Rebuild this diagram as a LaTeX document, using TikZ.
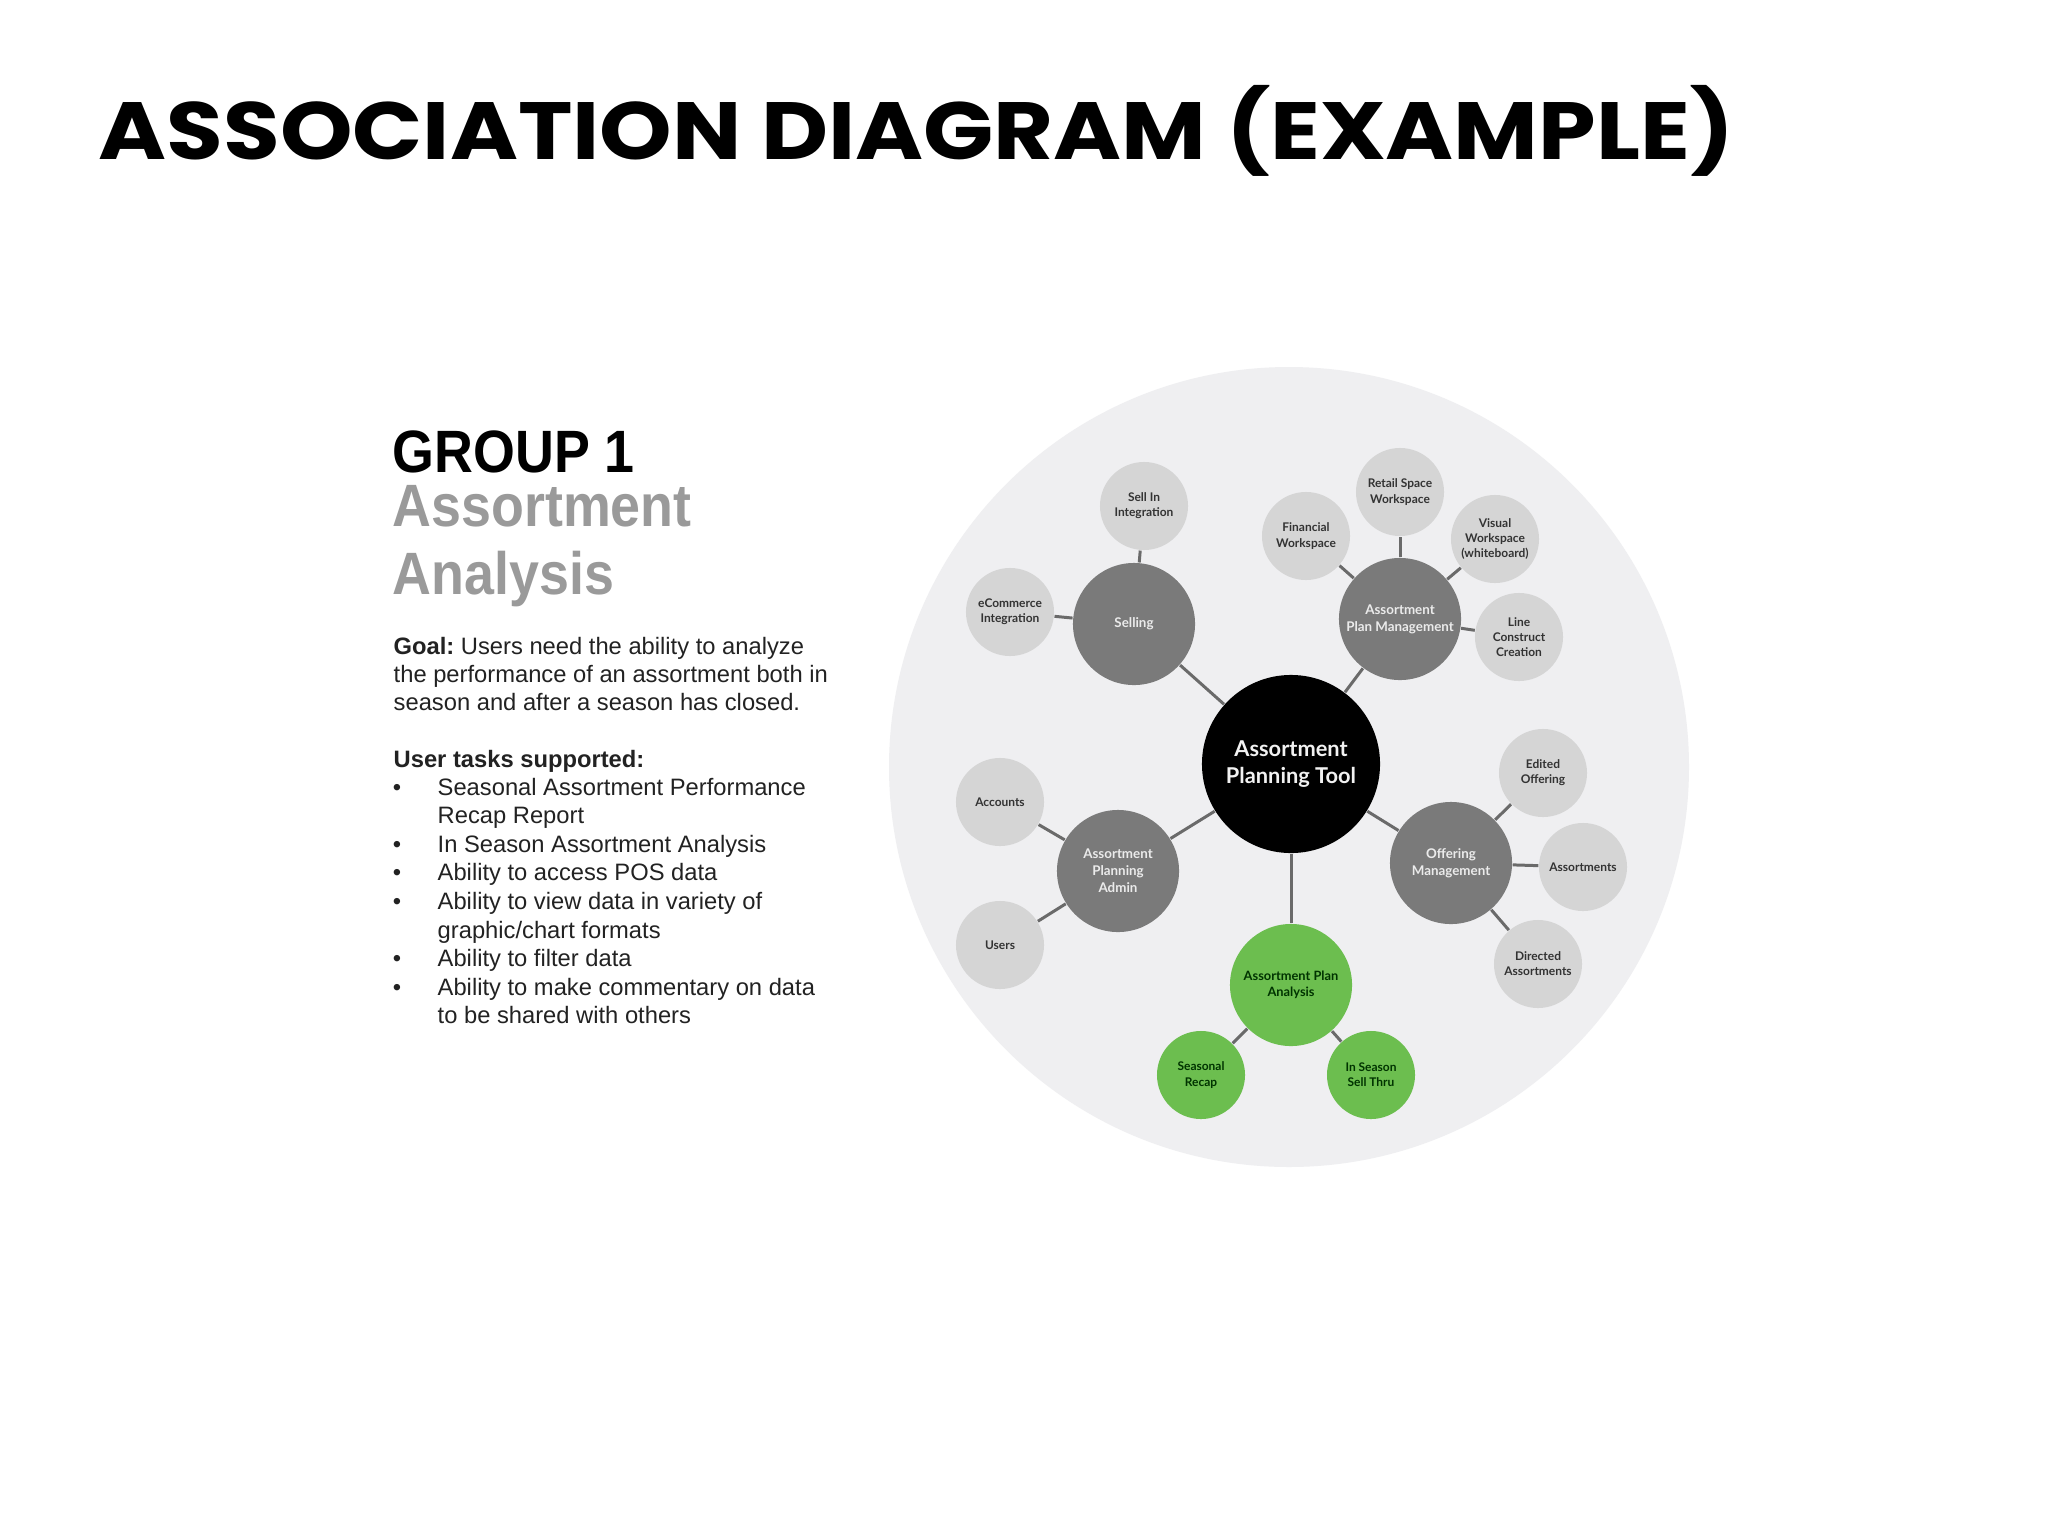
\documentclass[tikz,border=0pt]{standalone}
\usepackage{fontspec}
\usepackage{graphicx}
\setmainfont{Liberation Sans}
\newfontfamily\labfont{Lato}
\newfontfamily\ttlfont{Poppins}
\frenchspacing
\definecolor{bigbg}{HTML}{EFEFF1}
\definecolor{leafgray}{HTML}{D5D5D5}
\definecolor{midgray}{HTML}{7A7A7A}
\definecolor{grn}{HTML}{6CBE4F}
\definecolor{edgegray}{HTML}{6A6A6A}
\definecolor{headgray}{HTML}{9A9A9A}
\definecolor{bodytxt}{HTML}{222222}
\tikzset{
  leafc/.style={circle, fill=leafgray, minimum size=0.88cm, inner sep=0pt, align=center,
    text=black!80, font=\labfont\bfseries\fontsize{3.4}{4.3}\selectfont},
  midc/.style={circle, fill=midgray, minimum size=1.22cm, inner sep=0pt, align=center,
    text=white!92!black, font=\labfont\bfseries\fontsize{3.8}{4.8}\selectfont},
  hubc/.style={circle, fill=black, minimum size=1.78cm, inner sep=0pt, align=center,
    text=white!95!black, font=\labfont\bfseries\fontsize{6.2}{7.8}\selectfont},
  grnmid/.style={circle, fill=grn, minimum size=1.22cm, inner sep=0pt, align=center,
    text=black!80!green, font=\labfont\bfseries\fontsize{3.65}{4.55}\selectfont},
  grnleaf/.style={circle, fill=grn, minimum size=0.88cm, inner sep=0pt, align=center,
    text=black!80!green, font=\labfont\bfseries\fontsize{3.4}{4.3}\selectfont},
  link/.style={draw=edgegray, line width=0.85pt},
  headline/.style={anchor=base west, inner sep=0pt},
  bodyline/.style={anchor=base west, inner sep=0pt, text=bodytxt, font=\fontsize{6.75}{8.1}\selectfont},
  bulletmark/.style={anchor=base, inner sep=0pt, text=bodytxt, font=\fontsize{6.75}{8.1}\selectfont},
}
\newcommand{\headtxt}[1]{\scalebox{0.9}[1]{\fontsize{17}{17}\selectfont\bfseries #1}}
\begin{document}
\begin{tikzpicture}[x=0.01cm, y=-0.01cm]
\useasboundingbox[fill=white] (0,0) rectangle (2048,1536);

% title
\node[anchor=north west, inner sep=0pt] (title) at (98,85)
  {\resizebox*{465pt}{25.9pt}{\ttlfont\bfseries ASSOCIATION DIAGRAM (EXAMPLE)}};

% left panel
\node[headline] (grp) at (392,472) {\headtxt{GROUP 1}};
\node[headline, text=headgray] (hd1) at (392,526) {\headtxt{Assortment}};
\node[headline, text=headgray] (hd2) at (392,594) {\headtxt{Analysis}};

\node[bodyline] (g1) at (393,654) {\textbf{Goal:} Users need the ability to analyze};
\node[bodyline] (g2) at (393,682) {the performance of an assortment both in};
\node[bodyline] (g3) at (393,710) {season and after a season has closed.};

\node[bodyline] (ut) at (393,767) {\textbf{User tasks supported:}};

\node[bodyline] (t1) at (437,795.0) {Seasonal Assortment Performance};
\node[bodyline] (t2) at (437,823.6) {Recap Report};
\node[bodyline] (t3) at (437,852.2) {In Season Assortment Analysis};
\node[bodyline] (t4) at (437,880.8) {Ability to access POS data};
\node[bodyline] (t5) at (437,909.4) {Ability to view data in variety of};
\node[bodyline] (t6) at (437,938.0) {graphic/chart formats};
\node[bodyline] (t7) at (437,966.6) {Ability to filter data};
\node[bodyline] (t8) at (437,995.2) {Ability to make commentary on data};
\node[bodyline] (t9) at (437,1023.8) {to be shared with others};

\node[bulletmark] (b1) at (397,795.0) {\textbullet};
\node[bulletmark] (b3) at (397,852.2) {\textbullet};
\node[bulletmark] (b4) at (397,880.8) {\textbullet};
\node[bulletmark] (b5) at (397,909.4) {\textbullet};
\node[bulletmark] (b7) at (397,966.6) {\textbullet};
\node[bulletmark] (b8) at (397,995.2) {\textbullet};

% big background circle
\fill[bigbg] (1289,767) circle (400);

% nodes
\node[hubc] (hub) at (1291,764) {Assortment\\Planning Tool};

\node[midc] (sell) at (1134,624) {Selling};
\node[leafc] (sellin) at (1144,506) {Sell In\\Integration};
\node[leafc] (ecom) at (1010,612) {eCommerce\\Integration};

\node[midc] (apm) at (1400,619) {Assortment\\Plan Management};
\node[leafc] (fin) at (1306,536) {Financial\\Workspace};
\node[leafc] (retail) at (1400,492) {Retail Space\\Workspace};
\node[leafc] (visual) at (1495,539) {Visual\\Workspace\\(whiteboard)};
\node[leafc] (line) at (1519,637) {Line\\Construct\\Creation};

\node[midc] (off) at (1451,863) {Offering\\Management};
\node[leafc] (edit) at (1543,773) {Edited\\Offering};
\node[leafc] (asst) at (1583,867) {Assortments};
\node[leafc] (dir) at (1538,964) {Directed\\Assortments};

\node[midc] (adm) at (1118,871) {Assortment\\Planning\\Admin};
\node[leafc] (acc) at (1000,802) {Accounts};
\node[leafc] (usr) at (1000,945) {Users};

\node[grnmid] (apa) at (1291,985) {Assortment Plan\\Analysis};
\node[grnleaf] (rec) at (1201,1075) {Seasonal\\Recap};
\node[grnleaf] (ins) at (1371,1075) {In Season\\Sell Thru};

% connectors
\draw[link] (hub) -- (sell);
\draw[link] (hub) -- (apm);
\draw[link] (hub) -- (off);
\draw[link] (hub) -- (adm);
\draw[link] (hub) -- (apa);
\draw[link] (sell) -- (sellin);
\draw[link] (sell) -- (ecom);
\draw[link] (apm) -- (fin);
\draw[link] (apm) -- (retail);
\draw[link] (apm) -- (visual);
\draw[link] (apm) -- (line);
\draw[link] (off) -- (edit);
\draw[link] (off) -- (asst);
\draw[link] (off) -- (dir);
\draw[link] (adm) -- (acc);
\draw[link] (adm) -- (usr);
\draw[link] (apa) -- (rec);
\draw[link] (apa) -- (ins);
\end{tikzpicture}
\end{document}
